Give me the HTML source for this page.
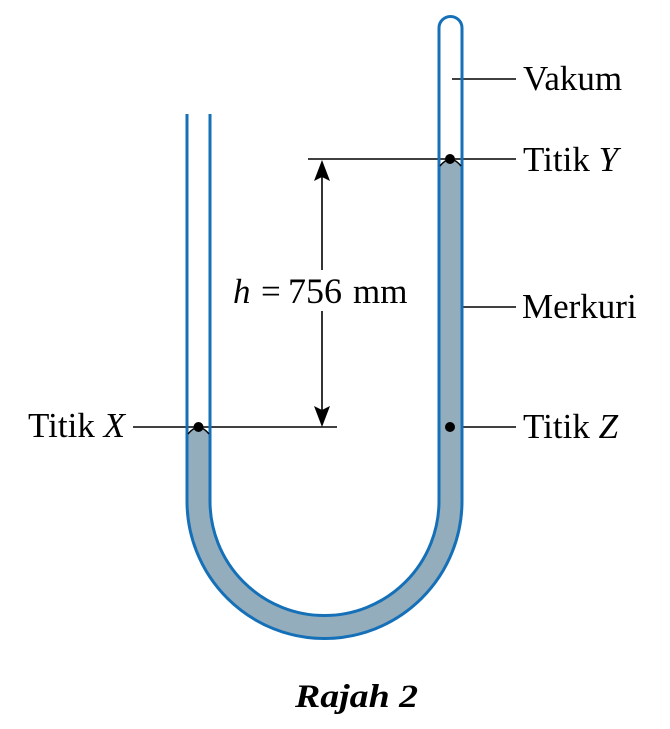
<!DOCTYPE html>
<html>
<head>
<meta charset="utf-8">
<style>
  html,body{margin:0;padding:0;background:#fff;}
  svg{display:block;}
  text{font-family:"Liberation Serif","DejaVu Serif",serif;fill:#000;}
</style>
</head>
<body>
<svg width="670" height="729" viewBox="0 0 670 729" xmlns="http://www.w3.org/2000/svg">
  <rect width="670" height="729" fill="#fff"/>

  <!-- leader / dimension lines -->
  <g stroke="#000" stroke-width="1.6" fill="none">
    <line x1="452" y1="79" x2="516" y2="79"/>
    <line x1="308" y1="159" x2="516" y2="159"/>
    <line x1="452" y1="307" x2="516" y2="307"/>
    <line x1="450" y1="427" x2="516" y2="427"/>
    <line x1="133" y1="427" x2="337" y2="427"/>
    <line x1="322" y1="172" x2="322" y2="270"/>
    <line x1="322" y1="311" x2="322" y2="415"/>
  </g>
  <!-- arrowheads -->
  <path d="M322,160 L330,181 L322,177 L314,181 Z" fill="#000"/>
  <path d="M322,427 L330,406 L322,410 L314,406 Z" fill="#000"/>

  <!-- mercury -->
  <path d="M187,434 Q198.5,421 210,434 V501 A114.5 114.5 0 0 0 439 501 V166 Q450.5,153 462,166 V501 A137.5 137.5 0 0 1 187 501 Z" fill="#93adbd"/>

  <!-- tube -->
  <path d="M187,114 V501 A137.5 137.5 0 0 0 462 501 V28 A11.5 11.5 0 0 0 439 28 V501 A114.5 114.5 0 0 1 210 501 V114" fill="none" stroke="#1570b8" stroke-width="3"/>

  <!-- menisci -->
  <path d="M188,434 Q198.5,421 209,434" fill="none" stroke="#000" stroke-width="1.4"/>
  <path d="M440,166 Q450.5,153 461,166" fill="none" stroke="#000" stroke-width="1.4"/>

  <!-- dots -->
  <circle cx="198.5" cy="427" r="5" fill="#000"/>
  <circle cx="450" cy="159" r="5" fill="#000"/>
  <circle cx="450" cy="427" r="5" fill="#000"/>

  <!-- labels -->
  <text x="523" y="90" font-size="35">Vakum</text>
  <text x="523" y="171" font-size="35">Titik <tspan font-style="italic">Y</tspan></text>
  <text x="522" y="318" font-size="35">Merkuri</text>
  <text x="523" y="438" font-size="35">Titik <tspan font-style="italic">Z</tspan></text>
  <text x="28" y="437" font-size="35">Titik <tspan font-style="italic">X</tspan></text>
  <text y="303" font-size="35"><tspan x="233" font-style="italic">h</tspan><tspan x="261">=</tspan><tspan x="288" font-size="36">756</tspan><tspan x="353">mm</tspan></text>
  <text x="295" y="707" font-size="33" font-weight="bold" font-style="italic" textLength="123" lengthAdjust="spacingAndGlyphs">Rajah 2</text>
</svg>
</body>
</html>
